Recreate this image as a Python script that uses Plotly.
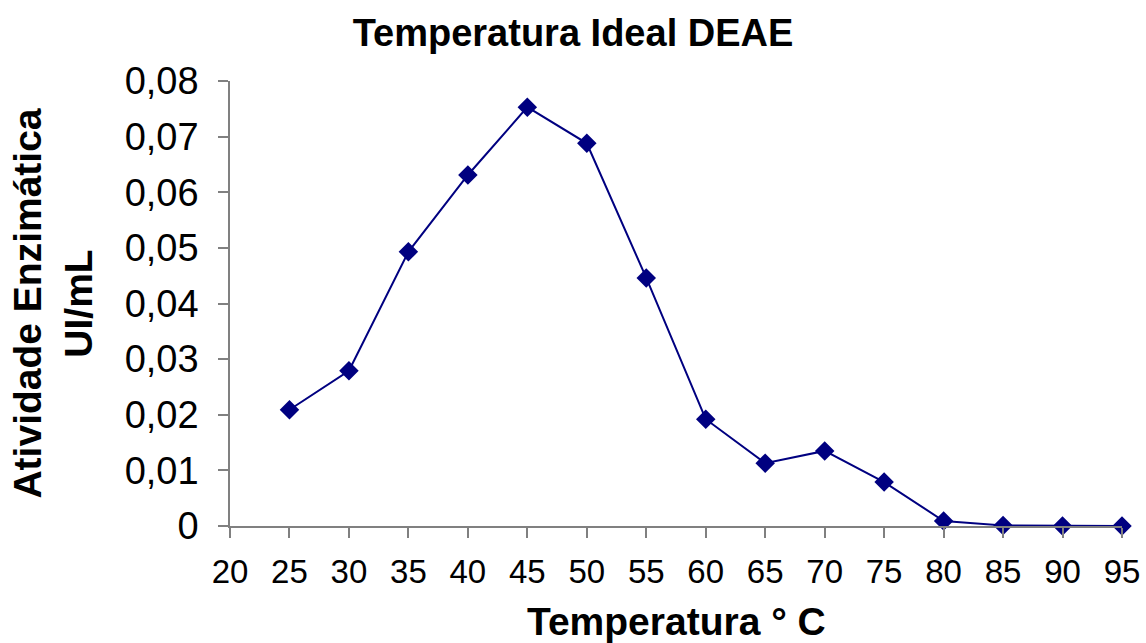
import plotly.graph_objects as go

temperatura = [25, 30, 35, 40, 45, 50, 55, 60, 65, 70, 75, 80, 85, 90, 95]
atividade = [0.0209, 0.0279, 0.0493, 0.0631, 0.0753, 0.0688, 0.0446, 0.0192, 0.0113, 0.0135, 0.0079, 0.0009, 0.0001, 0.0, 0.0]

x_ticks = [20, 25, 30, 35, 40, 45, 50, 55, 60, 65, 70, 75, 80, 85, 90, 95]
y_tickvals = [0, 0.01, 0.02, 0.03, 0.04, 0.05, 0.06, 0.07, 0.08]
y_ticktext = ["0", "0,01", "0,02", "0,03", "0,04", "0,05", "0,06", "0,07", "0,08"]

FONT = "Liberation Sans, Arial, sans-serif"
NAVY = "#000080"
GRAY = "#808080"

fig = go.Figure()
fig.add_trace(go.Scatter(
    x=temperatura, y=atividade, mode="lines+markers",
    line=dict(color=NAVY, width=2),
    marker=dict(symbol="diamond", size=15, color=NAVY),
    cliponaxis=False, showlegend=False,
))

fig.update_layout(
    width=1146, height=643,
    margin=dict(l=230, r=24, t=81, b=117),
    paper_bgcolor="white", plot_bgcolor="white",
    font=dict(family=FONT, color="black"),
    title=dict(text="<b>Temperatura Ideal DEAE</b>", font=dict(size=38, family=FONT, color="black"),
               x=0.5, xref="container", xanchor="center",
               y=1 - 33 / 643, yref="container", yanchor="middle"),
    xaxis=dict(
        range=[20, 95], tickvals=x_ticks, ticktext=[str(v) for v in x_ticks],
        automargin=False,
        showgrid=False, zeroline=False, showline=True, linecolor=GRAY, linewidth=1.5,
        ticks="outside", ticklen=10, tickcolor=GRAY, tickwidth=1.5,
        ticklabelstandoff=6,
        tickfont=dict(size=33, family=FONT, color="black"),
    ),
    yaxis=dict(
        range=[0, 0.08], tickvals=y_tickvals, ticktext=y_ticktext,
        automargin=False,
        showgrid=False, zeroline=False, showline=True, linecolor=GRAY, linewidth=1.5,
        ticks="outside", ticklen=10, tickcolor=GRAY, tickwidth=1.5,
        ticklabelstandoff=12,
        tickfont=dict(size=38, family=FONT, color="black"),
        title=dict(text="<b>Atividade Enzimática<br>UI/mL</b>", font=dict(size=39, family=FONT, color="black"), standoff=20),
    ),
    annotations=[dict(
        text="<b>Temperatura ° C</b>", font=dict(size=39, family=FONT, color="black"),
        xref="paper", yref="paper", x=0.5, y=-(621 - 526) / 445,
        xanchor="center", yanchor="middle", showarrow=False,
    )],
)

fig.write_html("out.html", config={"displayModeBar": False},
               post_script="document.body.style.margin='0';document.body.style.overflow='hidden';")
